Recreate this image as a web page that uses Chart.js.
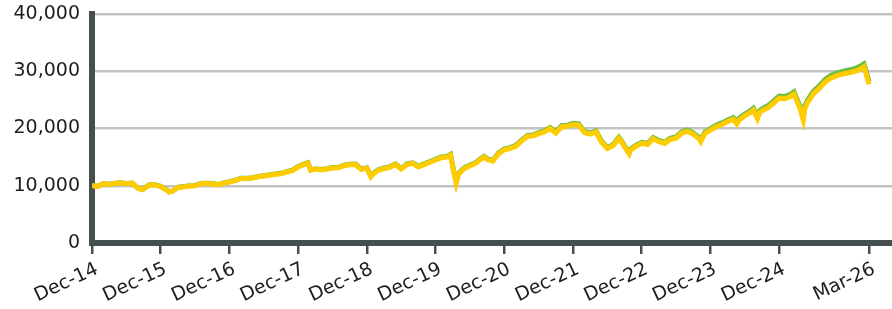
<!DOCTYPE html>
<html>
<head>
<meta charset="utf-8">
<script src="https://cdn.jsdelivr.net/npm/chart.js@4.4.1/dist/chart.umd.min.js"></script>
<style>
  html, body { margin: 0; padding: 0; background: #ffffff; }
  #wrap { position: relative; width: 892px; height: 309px; }
</style>
</head>
<body>
<div id="wrap"><canvas id="growthChart"></canvas></div>
<script>
// x positions: months since the start of Dec-14
const months = [
  0, 1, 2, 3, 4, 5, 6, 7, 8, 8.7, 9, 10, 11, 12, 13, 13.5, 14, 15, 16, 17, 18, 19, 20, 21, 22, 23,
  24, 25, 26, 27, 28, 29, 30, 31, 32, 33, 34, 35, 36, 37, 37.7, 38.2, 39, 40, 41, 42, 43, 44, 45, 46,
  47, 48, 48.7, 49, 50, 51, 52, 53, 54, 55, 56, 57, 58, 59, 60, 61, 62, 62.6, 63.1, 63.6, 64, 65, 66,
  67, 68, 68.5, 69, 70, 71, 72, 73, 74, 75, 76, 77, 78, 79, 80, 81, 82, 83, 84, 85, 86, 87, 88, 89,
  90, 91, 92, 92.5, 93, 93.8, 94, 95, 96, 97, 98, 99, 100, 101, 102, 103, 104, 105, 106, 106.3, 107,
  108, 109, 110, 111, 112, 112.6, 113, 114, 115, 115.5, 116.2, 116.6, 117, 118, 119, 120, 121, 122,
  122.6, 123, 123.6, 124.2, 124.5, 125, 126, 127, 128, 129, 130, 131, 132, 133, 134, 134.8, 135.7
];

// yellow line (drawn on top)
const fundValues = [
  10000, 9900, 10350, 10250, 10400, 10500, 10350, 10450, 9600, 9300, 9450, 10150, 10150, 9850, 9250, 8900, 9000, 9700, 9800, 9950, 10000, 10350, 10400, 10350, 10150, 10450,
  10650, 10900, 11250, 11250, 11350, 11550, 11700, 11850, 12000, 12100, 12400, 12650, 13300, 13700, 13950, 12700, 12900, 12750, 12900, 13100, 13150, 13500, 13650, 13700,
  12850, 13050, 11600, 12000, 12700, 13000, 13200, 13700, 12900, 13700, 13900, 13300, 13700, 14100, 14500, 14900, 15000, 15350, 12800, 10500, 12000, 13000, 13500,
  13900, 14700, 15000, 14600, 14300, 15600, 16300, 16500, 16900, 17800, 18600, 18700, 19100, 19400, 20000, 19200, 20300, 20400, 20700, 20600, 19300, 19000, 19400, 17600,
  16500, 17000, 18300, 17600, 16800, 15600, 16200, 16900, 17400, 17200, 18200, 17700, 17400, 18100, 18300, 19200, 19500, 19000, 18200, 17700, 19100,
  19700, 20300, 20700, 21200, 21600, 20800, 21500, 22200, 22800, 23200, 21700, 22800, 23100, 23600, 24400, 25300, 25200, 25600,
  26000, 25000, 23600, 21500, 23600, 24600, 26100, 27000, 28100, 28800, 29200, 29500, 29700, 29900, 30300, 30800, 27700
];

// green line (underneath)
const benchValues = [
  10030, 9930, 10380, 10280, 10430, 10530, 10380, 10480, 9630, 9330, 9480, 10180, 10190, 9890, 9290, 8940, 9050, 9750, 9850, 10000, 10050, 10400, 10450, 10400, 10210, 10510,
  10710, 10960, 11310, 11310, 11410, 11610, 11760, 11910, 12060, 12170, 12470, 12720, 13370, 13770, 14030, 12780, 12980, 12830, 12980, 13180, 13230, 13580, 13740, 13790,
  12940, 13140, 11690, 12100, 12800, 13100, 13300, 13800, 13000, 13810, 14010, 13410, 13810, 14210, 14620, 15020, 15120, 15470, 12920, 10610, 12120, 13120, 13630,
  14030, 14840, 15140, 14740, 14440, 15750, 16450, 16650, 17060, 17960, 18770, 18870, 19270, 19580, 20180, 19380, 20490, 20590, 20890, 20790, 19480, 19180, 19580, 17770,
  16660, 17170, 18480, 17780, 16970, 15760, 16370, 17080, 17590, 17390, 18400, 17900, 17610, 18320, 18520, 19430, 19740, 19240, 18440, 17940, 19350,
  19960, 20570, 20980, 21490, 21900, 21100, 21810, 22520, 23130, 23540, 22030, 23140, 23450, 23960, 24770, 25680, 25590, 26000,
  26400, 25400, 23990, 21880, 24000, 25010, 26530, 27440, 28550, 29260, 29670, 29980, 30190, 30400, 30800, 31300, 28180
];

const tickMonths = [0, 12, 24, 36, 48, 60, 72, 84, 96, 108, 120, 135.7];
const tickLabels = ['Dec-14', 'Dec-15', 'Dec-16', 'Dec-17', 'Dec-18', 'Dec-19', 'Dec-20', 'Dec-21', 'Dec-22', 'Dec-23', 'Dec-24', 'Mar-26'];
const yTickValues = [0, 10000, 20000, 30000, 40000];

const axisColor = '#454f4f';
const textColor = '#1e1e1e';

Chart.defaults.font.family = '"DejaVu Sans", sans-serif';
Chart.defaults.font.size = 19;
Chart.defaults.color = textColor;

const toPoints = (vals) => months.map((m, i) => ({ x: m, y: vals[i] }));

new Chart(document.getElementById('growthChart'), {
  type: 'line',
  data: {
    datasets: [
      {
        data: toPoints(fundValues),
        borderColor: '#ffcc00',
        borderWidth: 5,
        pointRadius: 0,
        tension: 0
      },
      {
        data: toPoints(benchValues),
        borderColor: '#6fbe44',
        borderWidth: 5,
        pointRadius: 0,
        tension: 0
      }
    ]
  },
  options: {
    responsive: true,
    maintainAspectRatio: false,
    animation: false,
    layout: { padding: { top: 14, right: 0, bottom: 0, left: 0 } },
    plugins: {
      legend: { display: false },
      tooltip: { enabled: false }
    },
    scales: {
      x: {
        type: 'linear',
        min: 0,
        max: 139.7,
        afterBuildTicks: (scale) => {
          scale.ticks = tickMonths.map(v => ({ value: v }));
        },
        afterFit: (scale) => { scale.height = 66; },
        ticks: {
          autoSkip: false,
          minRotation: 25,
          maxRotation: 25,
          padding: 4,
          labelOffset: 5,
          callback: (value, index) => tickLabels[index]
        },
        grid: {
          drawOnChartArea: false,
          drawTicks: true,
          tickLength: 11,
          color: axisColor,
          lineWidth: 2.5
        },
        border: { display: true, color: axisColor, width: 6 }
      },
      y: {
        min: 0,
        max: 40000,
        afterBuildTicks: (scale) => {
          scale.ticks = yTickValues.map(v => ({ value: v }));
        },
        afterFit: (scale) => {
          scale.width = 92;
          // let the layout padding decide the top edge
          scale.paddingTop = 0;
          scale.paddingBottom = 0;
        },
        ticks: {
          padding: 12,
          callback: (value) => value.toLocaleString('en-US')
        },
        grid: {
          drawTicks: false,
          color: '#c3c3c3',
          lineWidth: 2.5
        },
        border: { display: true, color: axisColor, width: 6 }
      }
    }
  }
});
</script>
</body>
</html>
